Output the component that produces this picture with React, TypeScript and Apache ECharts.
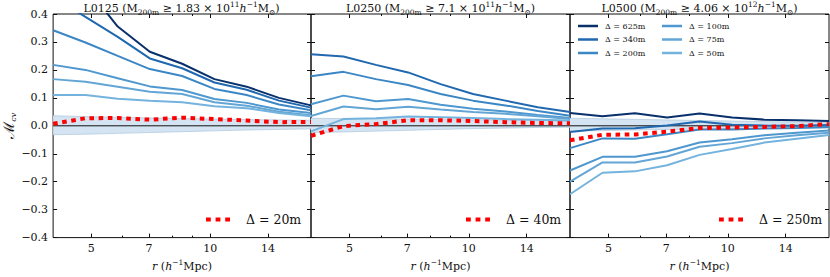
import React, { useEffect, useRef } from 'react';
import * as echarts from 'echarts';

// ---- data ----
const radii = [4.0, 4.83, 5.83, 7.03, 8.49, 10.25, 12.37, 14.93, 18.0];
const xMajorTicks = [5, 7, 10, 14];
const xMinorTicks = [6, 8, 9];
const xRange = [4, 18];
const yRange = [-0.4, 0.4];

const deltaNames = ['Δ = 625m', 'Δ = 340m', 'Δ = 200m', 'Δ = 100m', 'Δ = 75m', 'Δ = 50m'];
const deltaColors = ['#08306b', '#2068b0', '#3b87c5', '#4f98cf', '#63a6d6', '#74b3dd'];

// L0125
const L0125_d625 = [0.58, 0.5, 0.355, 0.265, 0.222, 0.167, 0.14, 0.1, 0.073];
const L0125_d340 = [0.46, 0.39, 0.318, 0.241, 0.206, 0.155, 0.129, 0.09, 0.065];
const L0125_d200 = [0.342, 0.298, 0.25, 0.203, 0.178, 0.132, 0.11, 0.076, 0.056];
const L0125_d100 = [0.218, 0.2, 0.17, 0.141, 0.128, 0.096, 0.082, 0.058, 0.046];
const L0125_d75 = [0.167, 0.158, 0.14, 0.122, 0.114, 0.084, 0.072, 0.05, 0.038];
const L0125_d50 = [0.11, 0.11, 0.097, 0.09, 0.084, 0.07, 0.063, 0.046, 0.034];
const L0125_d20 = [0.007, 0.027, 0.028, 0.022, 0.029, 0.024, 0.019, 0.013, 0.014];
const L0125_bandLow = [-0.032, -0.03, -0.027, -0.024, -0.021, -0.018, -0.015, -0.013, -0.011];
const L0125_bandHigh = [0.036, 0.033, 0.03, 0.028, 0.026, 0.024, 0.022, 0.021, 0.02];

// L0250
const L0250_d340 = [0.256, 0.248, 0.218, 0.191, 0.149, 0.114, 0.09, 0.066, 0.049];
const L0250_d200 = [0.177, 0.193, 0.167, 0.146, 0.114, 0.09, 0.073, 0.053, 0.036];
const L0250_d100 = [0.077, 0.108, 0.088, 0.096, 0.075, 0.061, 0.051, 0.039, 0.028];
const L0250_d75 = [0.035, 0.069, 0.059, 0.068, 0.058, 0.049, 0.043, 0.034, 0.024];
const L0250_d50 = [-0.02, 0.024, 0.027, 0.033, 0.031, 0.028, 0.024, 0.022, 0.019];
const L0250_d40 = [-0.036, -0.001, 0.006, 0.02, 0.02, 0.017, 0.013, 0.01, 0.009];
const L0250_bandLow = [-0.024, -0.022, -0.019, -0.016, -0.013, -0.01, -0.008, -0.006, -0.005];
const L0250_bandHigh = [0.027, 0.026, 0.025, 0.024, 0.022, 0.021, 0.02, 0.019, 0.018];

// L0500
const L0500_d625 = [0.046, 0.034, 0.045, 0.03, 0.044, 0.03, 0.022, 0.02, 0.017];
const L0500_d340 = [-0.022, -0.01, -0.009, 0.001, 0.015, 0.004, 0.001, 0.0, 0.003];
const L0500_d200 = [-0.08, -0.045, -0.046, -0.03, -0.013, -0.013, -0.01, -0.008, -0.004];
const L0500_d100 = [-0.16, -0.111, -0.111, -0.091, -0.06, -0.048, -0.034, -0.025, -0.017];
const L0500_d75 = [-0.2, -0.131, -0.131, -0.11, -0.075, -0.062, -0.045, -0.034, -0.025];
const L0500_d50 = [-0.245, -0.168, -0.163, -0.141, -0.104, -0.083, -0.06, -0.046, -0.033];
const L0500_d250 = [-0.052, -0.032, -0.031, -0.021, -0.008, -0.006, -0.004, -0.001, 0.006];
const L0500_bandLow = [-0.019, -0.017, -0.015, -0.013, -0.012, -0.011, -0.01, -0.009, -0.008];
const L0500_bandHigh = [0.027, 0.025, 0.023, 0.021, 0.019, 0.017, 0.015, 0.013, 0.011];

const panelTitles = [
  '{n|L0125 (M}{sub|200m}{n| ≥ 1.83 × 10}{sup|11}{it|h}{sup|−1}{n|M}{sub|⊙}{n|)}',
  '{n|L0250 (M}{sub|200m}{n| ≥ 7.1 × 10}{sup|11}{it|h}{sup|−1}{n|M}{sub|⊙}{n|)}',
  '{n|L0500 (M}{sub|200m}{n| ≥ 4.06 × 10}{sup|12}{it|h}{sup|−1}{n|M}{sub|⊙}{n|)}',
];

const panels = [
  {
    lines: [L0125_d625, L0125_d340, L0125_d200, L0125_d100, L0125_d75, L0125_d50],
    lineIdx: [0, 1, 2, 3, 4, 5],
    red: L0125_d20, redName: 'Δ = 20m',
    bandLow: L0125_bandLow, bandHigh: L0125_bandHigh,
  },
  {
    lines: [L0250_d340, L0250_d200, L0250_d100, L0250_d75, L0250_d50],
    lineIdx: [1, 2, 3, 4, 5],
    red: L0250_d40, redName: 'Δ = 40m',
    bandLow: L0250_bandLow, bandHigh: L0250_bandHigh,
  },
  {
    lines: [L0500_d625, L0500_d340, L0500_d200, L0500_d100, L0500_d75, L0500_d50],
    lineIdx: [0, 1, 2, 3, 4, 5],
    red: L0500_d250, redName: 'Δ = 250m',
    bandLow: L0500_bandLow, bandHigh: L0500_bandHigh,
  },
];

// ---- layout ----
const gridLeft = [52, 311, 570];
const gridW = 259;
const gridTop = 14;
const gridH = 225;
const serif = 'DejaVu Serif';
const ink = '#111';

const lg = (v: number) => Math.log10(v);

const dottedIcon = 'path://M0,0h4.6v4h-4.6zM9.2,0h4.6v4h-4.6zM18.4,0h4.6v4h-4.6z';
const lineIcon = 'path://M0,0h20v2.5h-20z';

function buildOption() {
  const majorLog = xMajorTicks.map(lg);
  const minorLog = xMinorTicks.map(lg);
  const toData = (vals: number[]) => radii.map((r, i) => [lg(r), vals[i]]);

  const axisRich = {
    n: { fontSize: 11, fontFamily: serif, color: ink, lineHeight: 16 },
    it: { fontSize: 11, fontFamily: serif, fontStyle: 'italic', color: ink, lineHeight: 16 },
    sup: { fontSize: 7.5, fontFamily: serif, color: ink, lineHeight: 8, verticalAlign: 'top' },
    m: { fontSize: 15, fontFamily: serif, color: ink, lineHeight: 18 },
    sub: { fontSize: 8, fontFamily: serif, fontStyle: 'italic', color: ink, lineHeight: 8, verticalAlign: 'bottom' },
  };

  const xAxis: any[] = [];
  const yAxis: any[] = [];
  const series: any[] = [];

  panels.forEach((pn, p) => {
    const xBase = {
      type: 'value', gridIndex: p, min: lg(xRange[0]), max: lg(xRange[1]),
      splitLine: { show: false }, axisLine: { show: false, onZero: false },
    };
    xAxis.push({
      ...xBase, position: 'bottom',
      axisTick: { show: true, inside: true, length: 4, customValues: majorLog, lineStyle: { color: ink, width: 1 } },
      axisLabel: {
        show: true, customValues: majorLog, margin: 5,
        formatter: (v: number) => String(Math.round(Math.pow(10, v))),
        fontFamily: serif, fontSize: 11, color: ink,
      },
      name: '{it|r}{n| (}{it|h}{sup|−1}{n|Mpc)}',
      nameLocation: 'middle', nameGap: 18,
      nameTextStyle: { rich: axisRich },
    });
    xAxis.push({
      ...xBase, position: 'bottom',
      axisTick: { show: true, inside: true, length: 2, customValues: minorLog, lineStyle: { color: ink, width: 1 } },
      axisLabel: { show: false },
    });
    xAxis.push({
      ...xBase, position: 'top',
      axisTick: { show: true, inside: true, length: 4, customValues: majorLog, lineStyle: { color: ink, width: 1 } },
      axisLabel: { show: false },
    });
    xAxis.push({
      ...xBase, position: 'top',
      axisTick: { show: true, inside: true, length: 2, customValues: minorLog, lineStyle: { color: ink, width: 1 } },
      axisLabel: { show: false },
    });

    const yBase = {
      type: 'value', gridIndex: p, min: yRange[0], max: yRange[1], interval: 0.1,
      splitLine: { show: false }, axisLine: { show: false, onZero: false },
      axisTick: { show: true, inside: true, length: 4, lineStyle: { color: ink, width: 1 } },
    };
    yAxis.push({
      ...yBase, position: 'left',
      axisLabel: {
        show: p === 0, margin: 5, fontFamily: serif, fontSize: 11, color: ink,
        formatter: (v: number) => {
          const s = Math.abs(v).toFixed(1);
          return v < -1e-9 ? '−' + s : s;
        },
      },
      name: p === 0 ? '{m|ℳ}{sub|cv}' : '',
      nameLocation: 'middle', nameGap: 30,
      nameTextStyle: { rich: axisRich },
    });
    yAxis.push({ ...yBase, position: 'right', axisLabel: { show: false } });

    const xi = p * 4;
    const yi = p * 2;
    // shaded band + zero line, positions from the axes' own scales
    series.push({
      type: 'custom', xAxisIndex: xi, yAxisIndex: yi, silent: true, z: 1,
      data: [[lg(radii[0]), 0]],
      renderItem: (_params: any, api: any) => {
        const up = radii.map((r, i) => api.coord([lg(r), pn.bandHigh[i]]));
        const lo = radii.map((r, i) => api.coord([lg(r), pn.bandLow[i]]));
        const z0 = api.coord([lg(xRange[0]), 0]);
        const z1 = api.coord([lg(xRange[1]), 0]);
        return {
          type: 'group',
          children: [
            { type: 'polygon', shape: { points: up.concat(lo.slice().reverse()) }, style: { fill: '#d4e4f2', stroke: 'none' } },
            { type: 'polyline', shape: { points: up }, style: { stroke: '#b4cbe0', lineWidth: 0.8, fill: 'none' } },
            { type: 'polyline', shape: { points: lo }, style: { stroke: '#b4cbe0', lineWidth: 0.8, fill: 'none' } },
            { type: 'line', shape: { x1: z0[0], y1: z0[1], x2: z1[0], y2: z1[1] }, style: { stroke: ink, lineWidth: 1 } },
          ],
        };
      },
    });
    pn.lines.forEach((vals, k) => {
      const idx = pn.lineIdx[k];
      series.push({
        name: deltaNames[idx], type: 'line', xAxisIndex: xi, yAxisIndex: yi,
        data: toData(vals), symbol: 'none', showSymbol: false, silent: true, color: deltaColors[idx],
        lineStyle: { color: deltaColors[idx], width: 2 }, z: 3,
      });
    });
    series.push({
      name: pn.redName, type: 'line', xAxisIndex: xi, yAxisIndex: yi,
      data: toData(pn.red), symbol: 'none', showSymbol: false, silent: true, color: '#ff0000',
      lineStyle: { color: '#ff0000', width: 4, type: [4.6, 4.6] }, z: 4,
    });
  });

  const redLegendLeft = [206, 466, 719];
  const legend: any[] = panels.map((pn, p) => ({
    data: [{ name: pn.redName, icon: dottedIcon, itemStyle: { color: '#ff0000' } }],
    left: redLegendLeft[p], top: 213, orient: 'horizontal', padding: 0,
    itemWidth: 24, itemHeight: 14, selectedMode: false,
    textStyle: { fontFamily: serif, fontSize: 12.5, color: ink, padding: [0, 0, 0, 11] },
  }));
  const blueLegend = (names: string[], colors: string[], left: number) => ({
    data: names.map((n, i) => ({ name: n, icon: lineIcon, itemStyle: { color: colors[i] } })),
    left, top: 21, orient: 'vertical', padding: 0,
    itemWidth: 20, itemHeight: 10, itemGap: 3.5, selectedMode: false,
    textStyle: { fontFamily: serif, fontSize: 8, lineHeight: 10, color: ink, padding: [0, 0, 0, 2] },
  });
  legend.push(blueLegend(deltaNames.slice(0, 3), deltaColors.slice(0, 3), 578));
  legend.push(blueLegend(deltaNames.slice(3), deltaColors.slice(3), 662));

  const titleRich = {
    n: { fontSize: 11, fontFamily: serif, lineHeight: 16, fill: ink },
    it: { fontSize: 11, fontFamily: serif, fontStyle: 'italic', lineHeight: 16, fill: ink },
    sub: { fontSize: 7.5, fontFamily: serif, lineHeight: 12, verticalAlign: 'bottom', fill: ink },
    sup: { fontSize: 7.5, fontFamily: serif, lineHeight: 12, verticalAlign: 'top', fill: ink },
  };

  const graphic = panelTitles.map((t, p) => ({
    type: 'text', x: gridLeft[p] + gridW / 2, y: 8.5, silent: true,
    style: {
      text: t, rich: titleRich, align: 'center', verticalAlign: 'middle',
      fill: ink, fontFamily: serif, fontSize: 11,
    },
  }));

  return {
    animation: false,
    backgroundColor: '#fff',
    textStyle: { fontFamily: serif },
    grid: gridLeft.map((l) => ({
      left: l, top: gridTop, width: gridW, height: gridH,
      show: true, borderColor: ink, borderWidth: 1, backgroundColor: 'transparent',
    })),
    xAxis, yAxis, series, legend, graphic,
  };
}

export default function App() {
  const ref = useRef<HTMLDivElement>(null);
  useEffect(() => {
    const chart = echarts.init(ref.current!, null, { renderer: 'svg' });
    chart.setOption(buildOption() as any);
    return () => chart.dispose();
  }, []);
  return (
    <div
      ref={ref}
      style={{ position: 'fixed', left: 0, top: 0, width: 830, height: 277, background: '#fff' }}
    />
  );
}
